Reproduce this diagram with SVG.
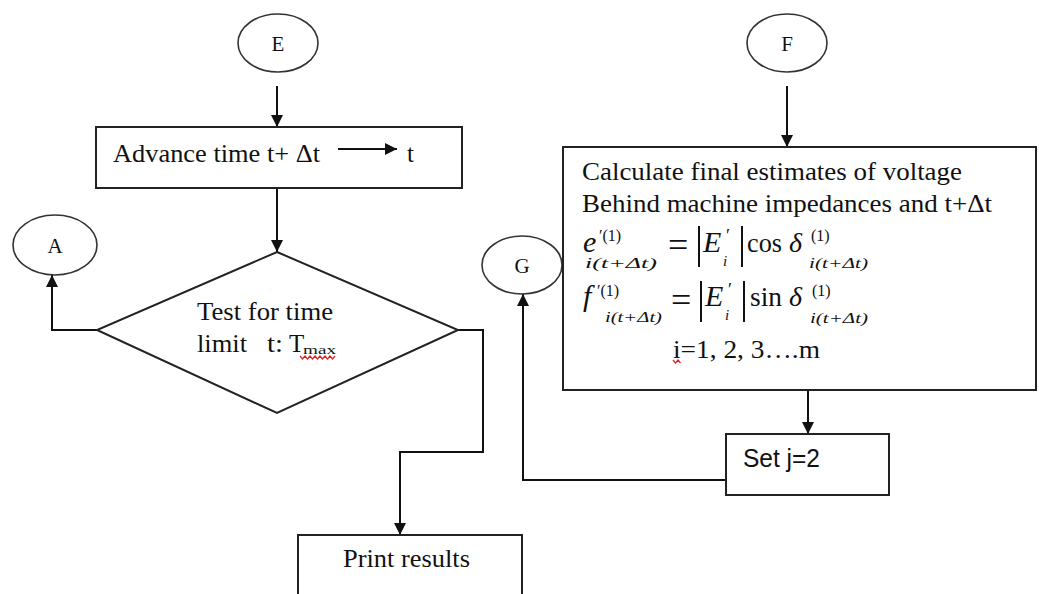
<svg xmlns="http://www.w3.org/2000/svg" width="1039" height="594" viewBox="0 0 1039 594">
  <defs>
    <marker id="arrow" viewBox="0 0 12 12" refX="12" refY="6" markerWidth="12" markerHeight="12" markerUnits="userSpaceOnUse" orient="auto">
      <path d="M0,0 L12,6 L0,12 Z" fill="#111"/>
    </marker>
    <style>
      .shape { fill: #fff; stroke: #222; stroke-width: 2; }
      .oval { fill: #fff; stroke: #333; stroke-width: 1.6; }
      .wire { fill: none; stroke: #111; stroke-width: 2; }
      .serif { font-family: "Liberation Serif", "Times New Roman", serif; font-size: 25px; fill: #111; }
      .label { font-family: "Liberation Serif", "Times New Roman", serif; font-size: 21px; fill: #111; }
      .sans { font-family: "Liberation Sans", Arial, sans-serif; font-size: 26px; fill: #111; }
      .math { font-family: "Liberation Serif", "Times New Roman", serif; fill: #111; }
      .it { font-style: italic; }
      .sub { font-size: 15px; font-style: italic; }
      .sup { font-size: 16px; }
      .bar { stroke: #111; stroke-width: 2; }
      .squiggle { fill: none; stroke: #e02020; stroke-width: 1.2; }
    </style>
  </defs>

  <rect width="1039" height="594" fill="#fff"/>

  <!-- connectors -->
  <g id="connectors">
    <line class="wire" x1="277" y1="86" x2="277" y2="127" marker-end="url(#arrow)"/>
    <line class="wire" x1="277" y1="188" x2="277" y2="252" marker-end="url(#arrow)"/>
    <polyline class="wire" points="97,330 52,330 52,275" marker-end="url(#arrow)"/>
    <polyline class="wire" points="458,330 483,330 483,452 400,452 400,535" marker-end="url(#arrow)"/>
    <line class="wire" x1="787" y1="86" x2="787" y2="147" marker-end="url(#arrow)"/>
    <line class="wire" x1="808" y1="390" x2="808" y2="434" marker-end="url(#arrow)"/>
    <polyline class="wire" points="726,480 523,480 523,294" marker-end="url(#arrow)"/>
  </g>

  <!-- connector E -->
  <g id="node-E">
    <ellipse class="oval" cx="278" cy="43" rx="40" ry="29"/>
    <text class="label" x="278" y="51" text-anchor="middle">E</text>
  </g>

  <!-- connector F -->
  <g id="node-F">
    <ellipse class="oval" cx="787" cy="43" rx="40" ry="29"/>
    <text class="label" x="787" y="51" text-anchor="middle">F</text>
  </g>

  <!-- connector A -->
  <g id="node-A">
    <ellipse class="oval" cx="55" cy="245" rx="42" ry="30"/>
    <text class="label" x="55" y="253" text-anchor="middle">A</text>
  </g>

  <!-- connector G -->
  <g id="node-G">
    <ellipse class="oval" cx="522" cy="265" rx="40" ry="29"/>
    <text class="label" x="522" y="273" text-anchor="middle">G</text>
  </g>

  <!-- advance time step -->
  <g id="node-advance">
    <rect class="shape" x="96" y="127" width="366" height="61"/>
    <text class="serif" x="113" y="162" textLength="207" lengthAdjust="spacingAndGlyphs">Advance time t+ Δt</text>
    <line class="wire" x1="338" y1="149" x2="397" y2="149" marker-end="url(#arrow)"/>
    <text class="serif" x="407" y="162">t</text>
  </g>

  <!-- time limit decision -->
  <g id="node-test">
    <polygon class="shape" points="277,252 458,330 277,413 97,330"/>
    <text class="serif" x="197" y="320" textLength="136" lengthAdjust="spacingAndGlyphs">Test for time</text>
    <text class="serif" x="197" y="352" textLength="50" lengthAdjust="spacingAndGlyphs">limit</text>
    <text class="serif" x="267" y="352" textLength="16" lengthAdjust="spacingAndGlyphs">t:</text>
    <text class="serif" x="289" y="352">T</text>
    <text class="serif" x="303" y="354" style="font-size:13px" textLength="33" lengthAdjust="spacingAndGlyphs">max</text>
    <path class="squiggle" d="M300,356 l2.5,3 l2.5,-3 l2.5,3 l2.5,-3 l2.5,3 l2.5,-3 l2.5,3 l2.5,-3 l2.5,3 l2.5,-3 l2.5,3 l2.5,-3 l2.5,3 l2.5,-3"/>
  </g>

  <!-- final voltage estimates -->
  <g id="node-estimates">
    <rect class="shape" x="563" y="147" width="473" height="243"/>
    <text class="serif" x="582" y="180" textLength="380" lengthAdjust="spacingAndGlyphs">Calculate final estimates of voltage</text>
    <text class="serif" x="582" y="212" textLength="410" lengthAdjust="spacingAndGlyphs">Behind machine impedances and t+Δt</text>

    <!-- e'_i(t+Δt) = |E'_i| cos δ_i(t+Δt) -->
    <g class="math">
      <text class="it" x="583" y="252" font-size="30">e</text>
      <text class="sup" x="599" y="241">′(1)</text>
      <text class="sub" x="585" y="268" textLength="72" lengthAdjust="spacingAndGlyphs">i(t+Δt)</text>
      <text x="668" y="257" font-size="36">=</text>
      <line class="bar" x1="699" y1="226" x2="699" y2="267"/>
      <text class="it" x="703" y="252" font-size="30">E</text>
      <text x="726" y="242" font-size="18">′</text>
      <text class="sub" x="723" y="266">i</text>
      <line class="bar" x1="742" y1="226" x2="742" y2="267"/>
      <text x="747" y="252" font-size="28" textLength="35" lengthAdjust="spacingAndGlyphs">cos</text>
      <text class="it" x="789" y="252" font-size="28">δ</text>
      <text class="sup" x="811" y="241">(1)</text>
      <text class="sub" x="809" y="268" textLength="59" lengthAdjust="spacingAndGlyphs">i(t+Δt)</text>
    </g>

    <!-- f'_i(t+Δt) = |E'_i| sin δ_i(t+Δt) -->
    <g class="math">
      <text class="it" x="583" y="306" font-size="30">f</text>
      <text class="sup" x="597" y="296">′(1)</text>
      <text class="sub" x="605" y="322" textLength="57" lengthAdjust="spacingAndGlyphs">i(t+Δt)</text>
      <text x="671" y="312" font-size="36">=</text>
      <line class="bar" x1="701" y1="281" x2="701" y2="322"/>
      <text class="it" x="705" y="306" font-size="30">E</text>
      <text x="728" y="296" font-size="18">′</text>
      <text class="sub" x="725" y="320">i</text>
      <line class="bar" x1="744" y1="281" x2="744" y2="322"/>
      <text x="750" y="306" font-size="28" textLength="32" lengthAdjust="spacingAndGlyphs">sin</text>
      <text class="it" x="789" y="306" font-size="28">δ</text>
      <text class="sup" x="812" y="296">(1)</text>
      <text class="sub" x="810" y="323" textLength="58" lengthAdjust="spacingAndGlyphs">i(t+Δt)</text>
    </g>

    <text class="serif" x="673" y="358" textLength="147" lengthAdjust="spacingAndGlyphs">i=1, 2, 3….m</text>
    <path class="squiggle" d="M673,360 l2.5,3 l2.5,-3 l2.5,3"/>
  </g>

  <!-- set j=2 -->
  <g id="node-setj">
    <rect class="shape" x="726" y="434" width="163" height="61"/>
    <text class="sans" x="743" y="467" textLength="77" lengthAdjust="spacingAndGlyphs">Set j=2</text>
  </g>

  <!-- print results -->
  <g id="node-print">
    <rect class="shape" x="298" y="535" width="224" height="70"/>
    <text class="serif" x="343" y="567" textLength="127" lengthAdjust="spacingAndGlyphs">Print results</text>
  </g>
</svg>
